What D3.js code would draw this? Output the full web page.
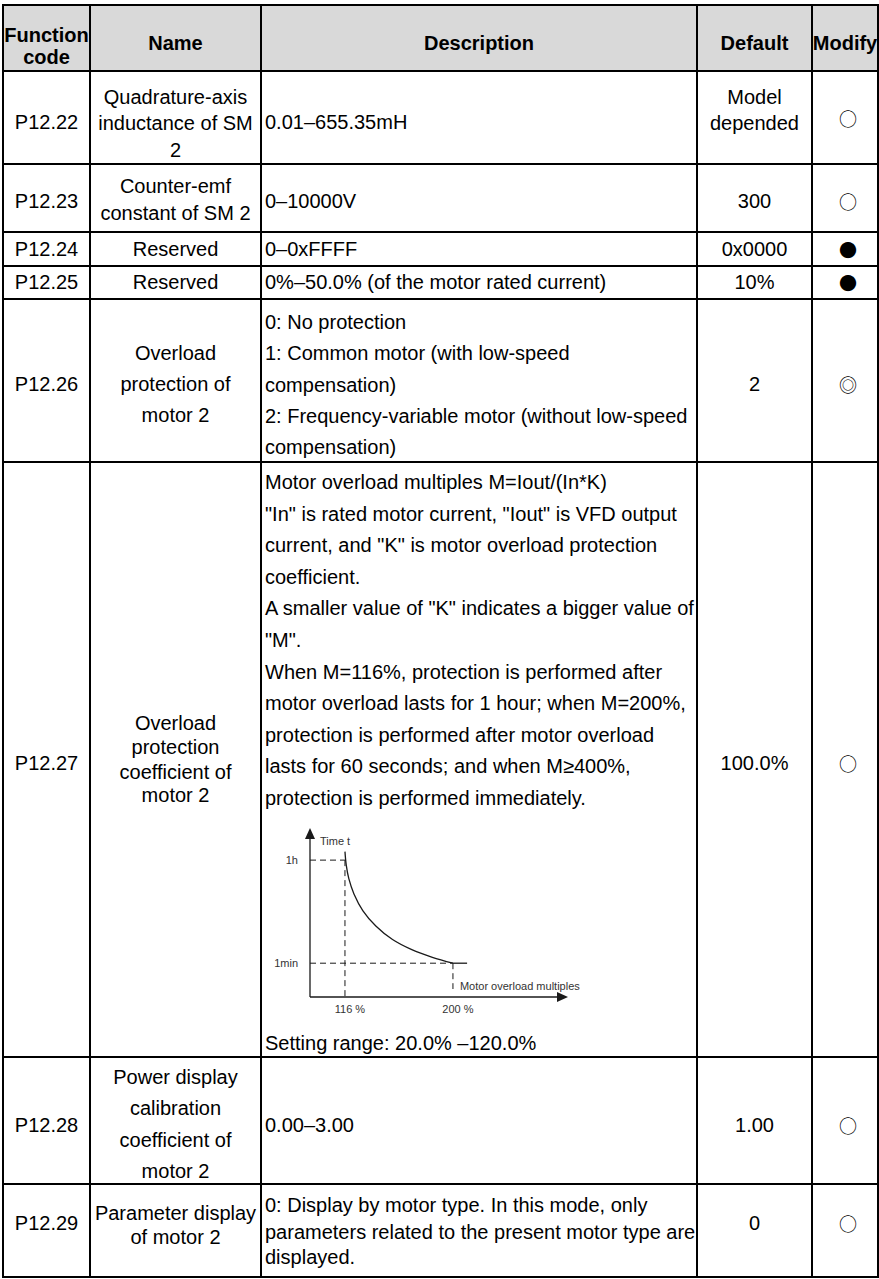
<!DOCTYPE html>
<html><head><meta charset="utf-8">
<script src="https://cdn.jsdelivr.net/npm/d3@7/dist/d3.min.js"></script>
<style>
html,body{margin:0;padding:0;background:#fff;}
svg{display:block;}
</style></head>
<body>
<svg id="chart" width="879" height="1279"></svg>
<script>
// ---------- table data ----------
const headers = [["Function","code"],["Name"],["Description"],["Default"],["Modify"]];
const codes = ["P12.22","P12.23","P12.24","P12.25","P12.26","P12.27","P12.28","P12.29"];
const names = [
  ["Quadrature-axis","inductance of SM","2"],
  ["Counter-emf","constant of SM 2"],
  ["Reserved"],
  ["Reserved"],
  ["Overload","protection of","motor 2"],
  ["Overload","protection","coefficient of","motor 2"],
  ["Power display","calibration","coefficient of","motor 2"],
  ["Parameter display","of motor 2"]
];
const descriptions = [
  ["0.01–655.35mH"],
  ["0–10000V"],
  ["0–0xFFFF"],
  ["0%–50.0% (of the motor rated current)"],
  ["0: No protection","1: Common motor (with low-speed","compensation)","2: Frequency-variable motor (without low-speed","compensation)"],
  ["Motor overload multiples M=Iout/(In*K)",
   "\"In\" is rated motor current, \"Iout\" is VFD output",
   "current, and \"K\" is motor overload protection",
   "coefficient.",
   "A smaller value of \"K\" indicates a bigger value of",
   "\"M\".",
   "When M=116%, protection is performed after",
   "motor overload lasts for 1 hour; when M=200%,",
   "protection is performed after motor overload",
   "lasts for 60 seconds; and when M≥400%,",
   "protection is performed immediately."],
  ["0.00–3.00"],
  ["0: Display by motor type. In this mode, only","parameters related to the present motor type are","displayed."]
];
const settingRange = "Setting range: 20.0% –120.0%";
const defaults = [["Model","depended"],["300"],["0x0000"],["10%"],["2"],["100.0%"],["1.00"],["0"]];
const modifyMarks = ["○","○","●","●","◎","○","○","○"];

// ---------- embedded chart data ----------
const loadPct   = [116, 117, 119, 123, 130, 140, 153, 168, 184, 200];
const timeLevel = [0.86, 0.78, 0.70, 0.61, 0.51, 0.42, 0.34, 0.28, 0.235, 0.20];
const tailPct   = [200, 211];
const tailLevel = [0.20, 0.20];
const pctTicks  = [116, 200];
const pctTickLabels = ["116 %", "200 %"];
const levelValues = [0.81, 0.20];
const levelLabels = ["1h", "1min"];
const yAxisTitle = "Time t";
const xAxisTitle = "Motor overload multiples";

// ---------- layout ----------
const colX = [3, 90, 261, 697, 812, 878];
const rowY = [5, 71, 164, 232, 266, 299, 462, 1057, 1184, 1277];
const FONT = "'Liberation Sans', Arial, Helvetica, sans-serif";
const layout = [
  {c:122, name:[97,123,150], desc:[122], def:[97,123], mark:118},
  {c:201, name:[186,213], desc:[201], def:[201], mark:201},
  {c:249, name:[249], desc:[249], def:[249], mark:249},
  {c:282, name:[282], desc:[282], def:[282], mark:282},
  {c:384, name:[353,384,415], desc:d3.range(5).map(i=>322+i*31.25), def:[384], mark:384},
  {c:763, name:[723,747,772,795], desc:d3.range(11).map(i=>482+i*31.6), def:[763], mark:763},
  {c:1125, name:[1077,1108,1140,1171], desc:[1125], def:[1125], mark:1125},
  {c:1223, name:[1213,1237], desc:[1205,1232,1257], def:[1223], mark:1223}
];

const svg = d3.select("#chart");

svg.append("rect").attr("x",colX[0]).attr("y",rowY[0])
  .attr("width",colX[5]-colX[0]).attr("height",rowY[1]-rowY[0]).attr("fill","#d9d9d9");

const hdrCenters = colX.slice(0,5).map((x,i)=>(x+colX[i+1])/2);
headers.forEach((h,i)=>{
  const ys = h.length===2 ? [42,63.5] : [49.5];
  h.forEach((t,j)=>{
    svg.append("text").attr("x",hdrCenters[i]).attr("y",ys[j])
      .attr("text-anchor","middle").attr("font-family",FONT).attr("font-weight","bold")
      .attr("font-size",20).attr("fill","#000").text(t);
  });
});

function txt(x,cy,t,anchor,size){
  return svg.append("text").attr("x",x).attr("y",cy+7)
    .attr("text-anchor",anchor).attr("font-family",FONT)
    .attr("font-size",size||20).attr("fill","#000").text(t);
}

codes.forEach((code,i)=>{
  const L = layout[i];
  txt(hdrCenters[0], L.c, code, "middle");
  names[i].forEach((t,j)=>txt(hdrCenters[1], L.name[j], t, "middle"));
  descriptions[i].forEach((t,j)=>txt(colX[2]+4, L.desc[j], t, "start"));
  defaults[i].forEach((t,j)=>txt(hdrCenters[3], L.def[j], t, "middle"));
  svg.append("text").attr("x",hdrCenters[4]+3).attr("y",L.mark)
    .attr("dominant-baseline","central")
    .attr("text-anchor","middle").attr("font-family","'Noto Sans CJK SC', 'DejaVu Sans', sans-serif")
    .attr("font-size",18).attr("fill","#000").text(modifyMarks[i]);
});
txt(colX[2]+4, 1043, settingRange, "start");

// ---------- embedded curve chart ----------
const x = d3.scaleLinear().domain([88.8, 289.5]).range([310, 568]);
const y = d3.scaleLinear().domain([0, 1]).range([997, 828]);
const g = svg.append("g");
const ink = "#1a1a1a";

g.append("line").attr("x1",x(88.8)).attr("x2",x(88.8)).attr("y1",y(0)).attr("y2",y(0.95))
  .attr("stroke",ink).attr("stroke-width",1.3);
g.append("line").attr("x1",x(88.8)).attr("x2",x(282)).attr("y1",y(0)).attr("y2",y(0))
  .attr("stroke",ink).attr("stroke-width",1.3);
g.append("path").attr("d",`M${x(88.8)},${y(1)} L${x(88.8)-5},${y(1)+11} L${x(88.8)+5},${y(1)+11} Z`).attr("fill",ink);
g.append("path").attr("d",`M${x(289.5)},${y(0)} L${x(289.5)-11},${y(0)-5} L${x(289.5)-11},${y(0)+5} Z`).attr("fill",ink);

const dash = "6,4";
g.append("line").attr("x1",x(88.8)).attr("x2",x(pctTicks[0])).attr("y1",y(levelValues[0])).attr("y2",y(levelValues[0]))
  .attr("stroke",ink).attr("stroke-width",1).attr("stroke-dasharray",dash);
g.append("line").attr("x1",x(pctTicks[0])).attr("x2",x(pctTicks[0])).attr("y1",y(levelValues[0])).attr("y2",y(0))
  .attr("stroke",ink).attr("stroke-width",1).attr("stroke-dasharray",dash);
g.append("line").attr("x1",x(88.8)).attr("x2",x(pctTicks[1])).attr("y1",y(levelValues[1])).attr("y2",y(levelValues[1]))
  .attr("stroke",ink).attr("stroke-width",1).attr("stroke-dasharray",dash);
g.append("line").attr("x1",x(pctTicks[1])).attr("x2",x(pctTicks[1])).attr("y1",y(levelValues[1])).attr("y2",y(0)-8)
  .attr("stroke",ink).attr("stroke-width",1).attr("stroke-dasharray",dash);

const line = d3.line().x(d=>x(d[0])).y(d=>y(d[1])).curve(d3.curveCatmullRom.alpha(0.5));
g.append("path").attr("d",line(d3.zip(loadPct,timeLevel))).attr("fill","none")
  .attr("stroke",ink).attr("stroke-width",1.3);
g.append("path").attr("d",d3.line().x(d=>x(d[0])).y(d=>y(d[1]))(d3.zip(tailPct,tailLevel))).attr("fill","none")
  .attr("stroke",ink).attr("stroke-width",1.3);

const lab = (xx,yy,t,anchor)=>g.append("text").attr("x",xx).attr("y",yy)
  .attr("text-anchor",anchor).attr("font-family",FONT).attr("font-size",11).attr("fill","#333").text(t);
lab(x(88.8)+10, y(0.925)+4, yAxisTitle, "start");
levelValues.forEach((v,i)=>lab(x(88.8)-12, y(v)+4, levelLabels[i], "end"));
pctTicks.forEach((p,i)=>lab(x(p)+5, y(0)+16, pctTickLabels[i], "middle"));
lab(x(pctTicks[1])+7, y(0)-7, xAxisTitle, "start");

// ---------- grid lines ----------
colX.forEach(cx=>{
  svg.append("line").attr("x1",cx).attr("x2",cx).attr("y1",rowY[0]-1).attr("y2",rowY[rowY.length-1]+1)
    .attr("stroke","#000").attr("stroke-width",2);
});
rowY.forEach(ry=>{
  svg.append("line").attr("x1",colX[0]-1).attr("x2",colX[5]+1).attr("y1",ry).attr("y2",ry)
    .attr("stroke","#000").attr("stroke-width",2);
});
</script>
</body></html>
